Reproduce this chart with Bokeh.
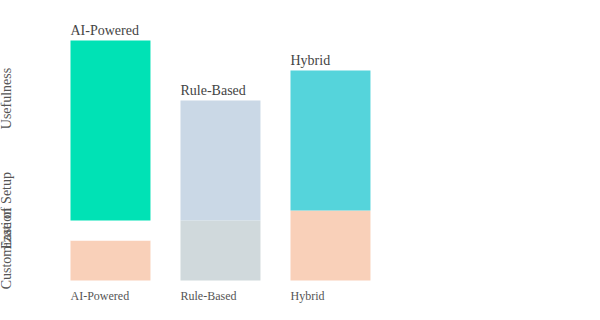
from bokeh.plotting import figure
from bokeh.models import ColumnDataSource, Range1d
from bokeh.core.properties import value
from bokeh.embed import file_html
from bokeh.resources import INLINE
import math

# ---- data ----
products = ["AI-Powered", "Rule-Based", "Hybrid"]
customization = [2.0, 3.0, 3.5]
ease_of_setup = [1.0, 0.0, 0.0]
usefulness = [9.0, 6.0, 7.0]
metrics = ["Usefulness", "Ease of Setup", "Customization"]
metric_label_y = [9.1, 3.5, 1.6]

# ---- styles ----
customization_colors = ["#f9d0b9", "#d0d9dc", "#f9d0b9"]
ease_colors = ["#ffffff", "#d0d9dc", "#f9d0b9"]
usefulness_colors = ["#00e2b5", "#cad8e6", "#55d4db"]
FONT = value("Liberation Serif")
BAR_W = 0.727

p = figure(width=600, height=320, output_backend="svg", toolbar_location=None,
           x_axis_location=None, y_axis_location=None,
           x_range=Range1d(-0.6364, 4.8182), y_range=Range1d(-2, 14),
           min_border=0, outline_line_color=None)
p.xgrid.visible = False
p.ygrid.visible = False
p.background_fill_color = "white"
p.border_fill_color = "white"

idx = list(range(len(products)))
b0 = [0.0] * len(products)
t0 = [b + c for b, c in zip(b0, customization)]
t1 = [b + e for b, e in zip(t0, ease_of_setup)]
t2 = [b + u for b, u in zip(t1, usefulness)]

def seg(bottoms, tops, colors):
    src = ColumnDataSource(dict(left=idx, right=[i + BAR_W for i in idx],
                                bottom=bottoms, top=tops, color=colors))
    p.quad(left="left", right="right", bottom="bottom", top="top",
           fill_color="color", line_color=None, source=src)

seg(b0, t0, customization_colors)
seg(t0, t1, ease_colors)
seg(t1, t2, usefulness_colors)

# labels above bars
p.text(x=idx, y=t2, text=products, text_font=FONT, text_font_size="14px",
       text_color="#444444", text_align="left", text_baseline="alphabetic",
       y_offset=-10)
# labels under bars
p.text(x=idx, y=[0] * len(products), text=products, text_font=FONT,
       text_font_size="12px", text_color="#555555", text_align="left",
       text_baseline="alphabetic", y_offset=15)
# vertical metric labels on the left
p.text(x=[-0.578] * len(metrics), y=metric_label_y, text=metrics, text_font=FONT,
       text_font_size="14px", text_color="#555555", text_align="center",
       text_baseline="alphabetic", angle=math.pi / 2)

open("out.html", "w").write(file_html(p, INLINE))
